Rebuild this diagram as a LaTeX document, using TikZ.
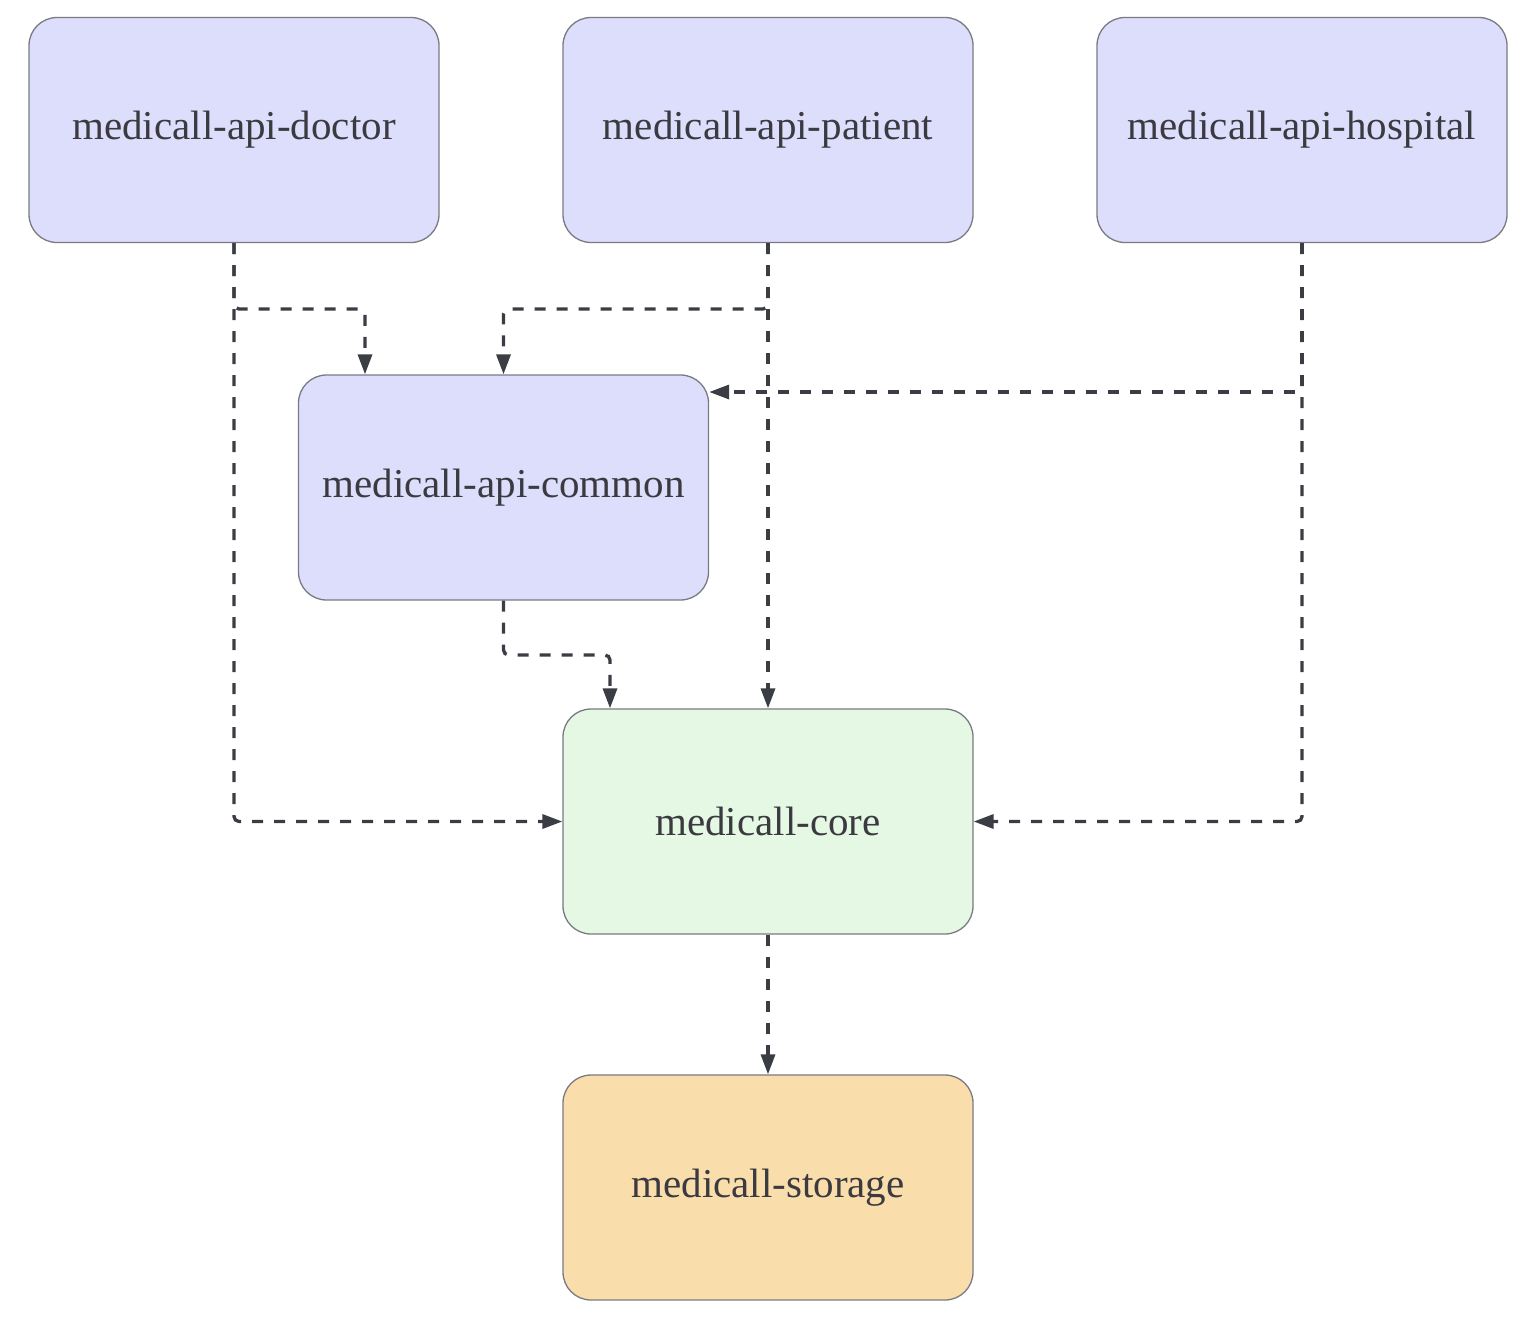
\documentclass[tikz,border=0pt]{standalone}
\usepackage{fontspec}
\setmainfont{Liberation Serif}
\usetikzlibrary{arrows.meta}
\definecolor{bluefill}{HTML}{DDDDFC}
\definecolor{greenfill}{HTML}{E4F8E4}
\definecolor{orangefill}{HTML}{F9DDAB}
\definecolor{boxline}{HTML}{7A7B82}
\definecolor{edgeline}{HTML}{3B3D45}
\definecolor{txt}{HTML}{3A3A40}
\begin{document}
\begin{tikzpicture}[x=1pt,y=-1pt,
  box/.style={draw=boxline,line width=1.3pt,rounded corners=28pt,minimum width=410pt,minimum height=225pt,inner sep=0pt,text=txt,font=\fontsize{41pt}{46pt}\selectfont,anchor=center},
  api/.style={box,fill=bluefill},
  corebox/.style={box,fill=greenfill},
  storebox/.style={box,fill=orangefill},
  edge/.style={draw=edgeline,line width=3.3pt,dash pattern=on 11pt off 11pt,rounded corners=5pt,-{Triangle[length=20pt,width=14pt]}}]
\useasboundingbox (0,0) rectangle (1538,1328);
\node[api] (doctor) at (234,130) {medicall-api-doctor};
\node[api] (patient) at (768,130) {medicall-api-patient};
\node[api] (hospital) at (1302,130) {medicall-api-hospital};
\node[api] (common) at (503.5,487.5) {medicall-api-common};
\node[corebox] (core) at (768,821.5) {medicall-core};
\node[storebox] (storage) at (768,1187.5) {medicall-storage};
\draw[edge] (doctor.south) -- (234,309) -| ([xshift=-138.5pt]common.north);
\draw[edge] (doctor.south) |- (core.west);
\draw[edge] (patient.south) -- (768,309) -| (common.north);
\draw[edge] (patient.south) -- (core.north);
\draw[edge] (hospital.south) |- ([yshift=95.5pt]common.east);
\draw[edge] (hospital.south) |- (core.east);
\draw[edge] (common.south) -- (503.5,655) -| ([xshift=-158pt]core.north);
\draw[edge] (core.south) -- (storage.north);
\end{tikzpicture}
\end{document}
